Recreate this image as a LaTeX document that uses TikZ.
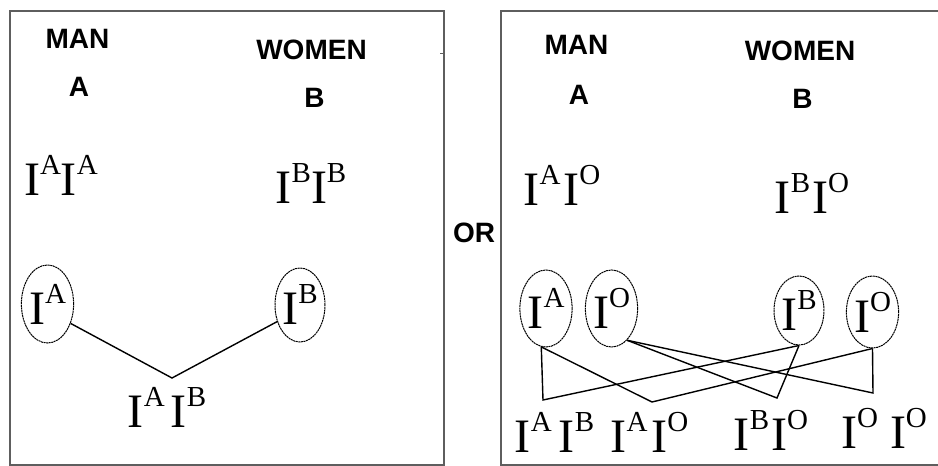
\documentclass[tikz,border=0pt]{standalone}
\usepackage{fontspec}
\setmainfont{Liberation Serif}
\newfontfamily\lblfont{Liberation Sans}
\usetikzlibrary{shapes.geometric}
\definecolor{boxgray}{HTML}{5E5E5E}
\newcommand\al[1]{I\raisebox{21pt}{\fontsize{29}{29}\selectfont #1}}
\tikzset{
  frame/.style={draw=boxgray, line width=2.2pt},
  lbl/.style={inner sep=0pt, font=\lblfont\bfseries\fontsize{28}{30}\selectfont},
  geno/.style={inner sep=0pt, anchor=base, font=\fontsize{48}{50}\selectfont},
  gam/.style={ellipse, draw, line width=1pt, dash pattern=on 2pt off 0.6pt, inner sep=0pt, font=\fontsize{48}{50}\selectfont},
  link/.style={draw, line width=1.4pt}
}
\begin{document}
\begin{tikzpicture}[x=1pt,y=-1pt]
\useasboundingbox (0,0) rectangle (938,466);
% frames
\draw[frame] (10,11) rectangle (444,465.5);
\draw[frame] (501,11) rectangle (950,465.5);
\draw[boxgray, line width=0.8pt] (440,53) -- (444,53);
% left panel labels
\node[lbl] (lman) at (77.5,38.5) {MAN};
\node[lbl] (la) at (79,87) {A};
\node[lbl] (lwomen) at (311.5,49.5) {WOMEN};
\node[lbl] (lb) at (314.5,98) {B};
\node[geno] (lAA) at (61,195) {\al{A}\al{A}};
\node[geno] (lBB) at (311,203) {\al{B}\al{B}};
% left gametes
\node[gam, minimum width=51pt, minimum height=78pt] (lA) at (47.5,304) {\al{A}};
\node[gam, minimum width=50pt, minimum height=74pt] (lB) at (300,305) {\al{B}};
\coordinate (v0) at (172,378);
\node[geno] (lAB) at (167,427) {\al{A}\hspace{6pt}\al{B}};
\draw[link] (lA.-40) -- (v0) -- (lB.-144);
% OR
\node[lbl] (or) at (474,233) {OR};
% right panel labels
\node[lbl] (rman) at (576.5,45) {MAN};
\node[lbl] (ra) at (579,95) {A};
\node[lbl] (rwomen) at (800,51) {WOMEN};
\node[lbl] (rb) at (802.5,99) {B};
\node[geno] (rAO) at (562,205) {\al{A}\hspace{3pt}\al{O}};
\node[geno] (rBO) at (812,213) {\al{B}\hspace{2pt}\al{O}};
% right gametes
\node[gam, minimum width=52pt, minimum height=77pt] (rA) at (546,308.5) {\al{A}};
\node[gam, minimum width=51pt, minimum height=77pt] (rO1) at (611.5,308.5) {\al{O}};
\node[gam, minimum width=48pt, minimum height=69pt] (rB) at (799,310.5) {\al{B}};
\node[gam, minimum width=51pt, minimum height=72pt] (rO2) at (872.5,312) {\al{O}};
\coordinate (v1) at (543,400);
\coordinate (v2) at (652,402);
\coordinate (v3) at (777,398);
\coordinate (v4) at (873,393);
\draw[link] (rA.-97) -- (v1) -- (rB.south);
\draw[link] (rA.-97) -- (v2) -- (rO2.south);
\draw[link] (rO1.-64) -- (v3) -- (rB.south);
\draw[link] (rO1.-64) -- (v4) -- (rO2.south);
% offspring
\node[geno] (oAB) at (554.5,452) {\al{A}\hspace{7pt}\al{B}};
\node[geno] (oAO) at (649.5,452) {\al{A}\hspace{4pt}\al{O}};
\node[geno] (oBO) at (771,450) {\al{B}\hspace{2pt}\al{O}};
\node[geno] (oOO) at (884,448) {\al{O}\hspace{12pt}\al{O}};
\end{tikzpicture}
\end{document}
